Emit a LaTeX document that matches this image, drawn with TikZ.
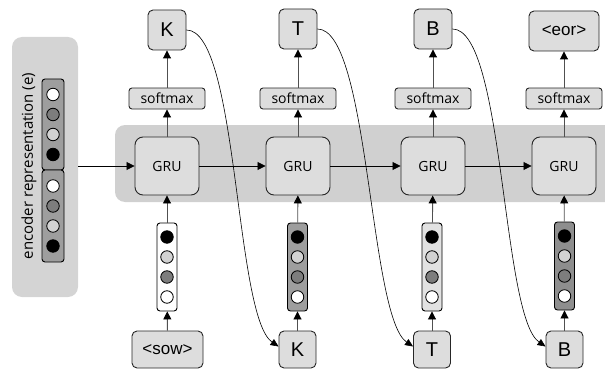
\documentclass[tikz,border=0pt]{standalone}
\usepackage{fontspec}
\setmainfont{Liberation Sans}
\newfontfamily\osans{Open Sans}
\usetikzlibrary{arrows.meta}

\definecolor{panelgray}{RGB}{212,212,212}
\definecolor{bandgray}{RGB}{208,208,208}
\definecolor{boxgray}{RGB}{221,221,221}
\definecolor{vecdark}{RGB}{158,158,158}
\definecolor{veclight}{RGB}{226,226,226}
\definecolor{dotdark}{RGB}{125,125,125}
\definecolor{dotlight}{RGB}{210,210,210}
\definecolor{linegray}{RGB}{80,80,80}

\tikzset{
  box/.style={draw=black!85, line width=0.9pt, fill=boxgray, inner sep=0pt},
  outbox/.style={box, rounded corners=5pt, minimum width=38pt, minimum height=40pt,
    font=\fontsize{20}{24}\selectfont},
  inbox/.style={box, rounded corners=5pt, minimum width=37pt, minimum height=37pt,
    font=\fontsize{20}{24}\selectfont},
  tagbox/.style={box, rounded corners=5pt, minimum width=70pt, minimum height=40pt,
    font=\fontsize{17}{20}\selectfont},
  smbox/.style={box, rounded corners=3pt, minimum width=76pt, minimum height=21pt,
    font=\osans\fontsize{14}{16}\selectfont},
  grubox/.style={box, rounded corners=8pt, minimum width=64pt, minimum height=58pt,
    font=\osans\fontsize{14}{16}\selectfont},
  vecbox/.style={draw=black, line width=0.9pt, rounded corners=3pt, inner sep=0pt,
    minimum width=20pt, minimum height=88pt},
  dot/.style={circle, draw=black, line width=0.8pt, minimum size=12.5pt, inner sep=0pt},
  uparrow/.style={draw=linegray, line width=0.9pt, -{Triangle[length=8pt,width=8pt,color=black]}},
  flow/.style={draw=black, line width=0.8pt, -{Triangle[length=8pt,width=8pt]}},
  feedback/.style={draw=black, line width=0.6pt, -{Triangle[length=8pt,width=7pt]}},
}

\begin{document}
\begin{tikzpicture}[x=1pt, y=-1pt]
\useasboundingbox (0,0) rectangle (605,369);

% recurrent band behind the GRU cells
\fill[bandgray, rounded corners=10pt] (115,125) rectangle (640,202);

% encoder panel with its two stacked vectors
\node[fill=panelgray, rounded corners=10pt, minimum width=66pt, minimum height=260pt,
      inner sep=0pt] (enc) at (45,167) {};
\node[rotate=90, font=\osans\fontsize{15}{17}\selectfont] (enclabel) at (29,166)
  {encoder representation (e)};
\node[vecbox, fill=vecdark, minimum width=22pt, minimum height=91pt] (ev1) at (53,124.5) {};
\node[vecbox, fill=vecdark, minimum width=22pt, minimum height=92pt] (ev2) at (53,216) {};
\foreach \c/\dy [count=\i] in {white/-30, dotdark/-10, dotlight/10, black/30} {
  \node[dot, fill=\c] (ea\i) at ([yshift=-\dy pt]ev1.center) {};
  \node[dot, fill=\c] (eb\i) at ([yshift=-\dy pt]ev2.center) {};
}

% decoder columns
\foreach \x/\n in {167/1, 298/2, 433/3, 564/4} {
  \node[grubox] (gru\n) at (\x,166) {GRU};
  \node[smbox] (sm\n) at (\x,98.5) {softmax};
}
\node[outbox] (o1) at (167,30) {K};
\node[outbox] (o2) at (298,29) {T};
\node[outbox] (o3) at (433,29) {B};
\node[tagbox] (o4) at (564,31) {<eor>};

\node[tagbox, minimum width=71pt, minimum height=37pt] (i1) at (167.5,349.5) {<sow>};
\node[inbox] (i2) at (297.5,349.5) {K};
\node[inbox] (i3) at (432,349.5) {T};
\node[inbox] (i4) at (564.5,349.5) {B};

% embedding vectors of the decoder inputs
\node[vecbox, fill=white] (v1) at (167,267) {};
\node[vecbox, fill=vecdark] (v2) at (297.5,267) {};
\node[vecbox, fill=veclight] (v3) at (432,267) {};
\node[vecbox, fill=vecdark!90!black] (v4) at (564.5,266) {};
\foreach \n in {1,...,4} {
  \foreach \c/\dy [count=\i] in {black/-30, dotlight/-10, dotdark/10, white/30} {
    \node[dot, fill=\c] (v\n d\i) at ([yshift=-\dy pt]v\n.center) {};
  }
}

% vertical flow through each column
\foreach \n in {1,...,4} {
  \draw[uparrow] (gru\n) -- (sm\n);
  \draw[uparrow] (sm\n) -- (o\n);
  \draw[uparrow] (v\n) -- (gru\n);
  \draw[uparrow] (i\n) -- (v\n);
}

% hidden state passed along the sequence
\draw[flow] (enc.east |- gru1.west) -- (gru1.west);
\draw[flow] (gru1) -- (gru2);
\draw[flow] (gru2) -- (gru3);
\draw[flow] (gru3) -- (gru4);

% predicted characters fed back as next inputs
\draw[feedback] (o1.east) .. controls +(52,0) and +(-44,-30) .. ([yshift=3pt]i2.west);
\draw[feedback] (o2.east) .. controls +(52,0) and +(-44,-30) .. ([yshift=3pt]i3.west);
\draw[feedback] (o3.east) .. controls +(52,0) and +(-44,-30) .. ([yshift=3pt]i4.west);
\end{tikzpicture}
\end{document}
